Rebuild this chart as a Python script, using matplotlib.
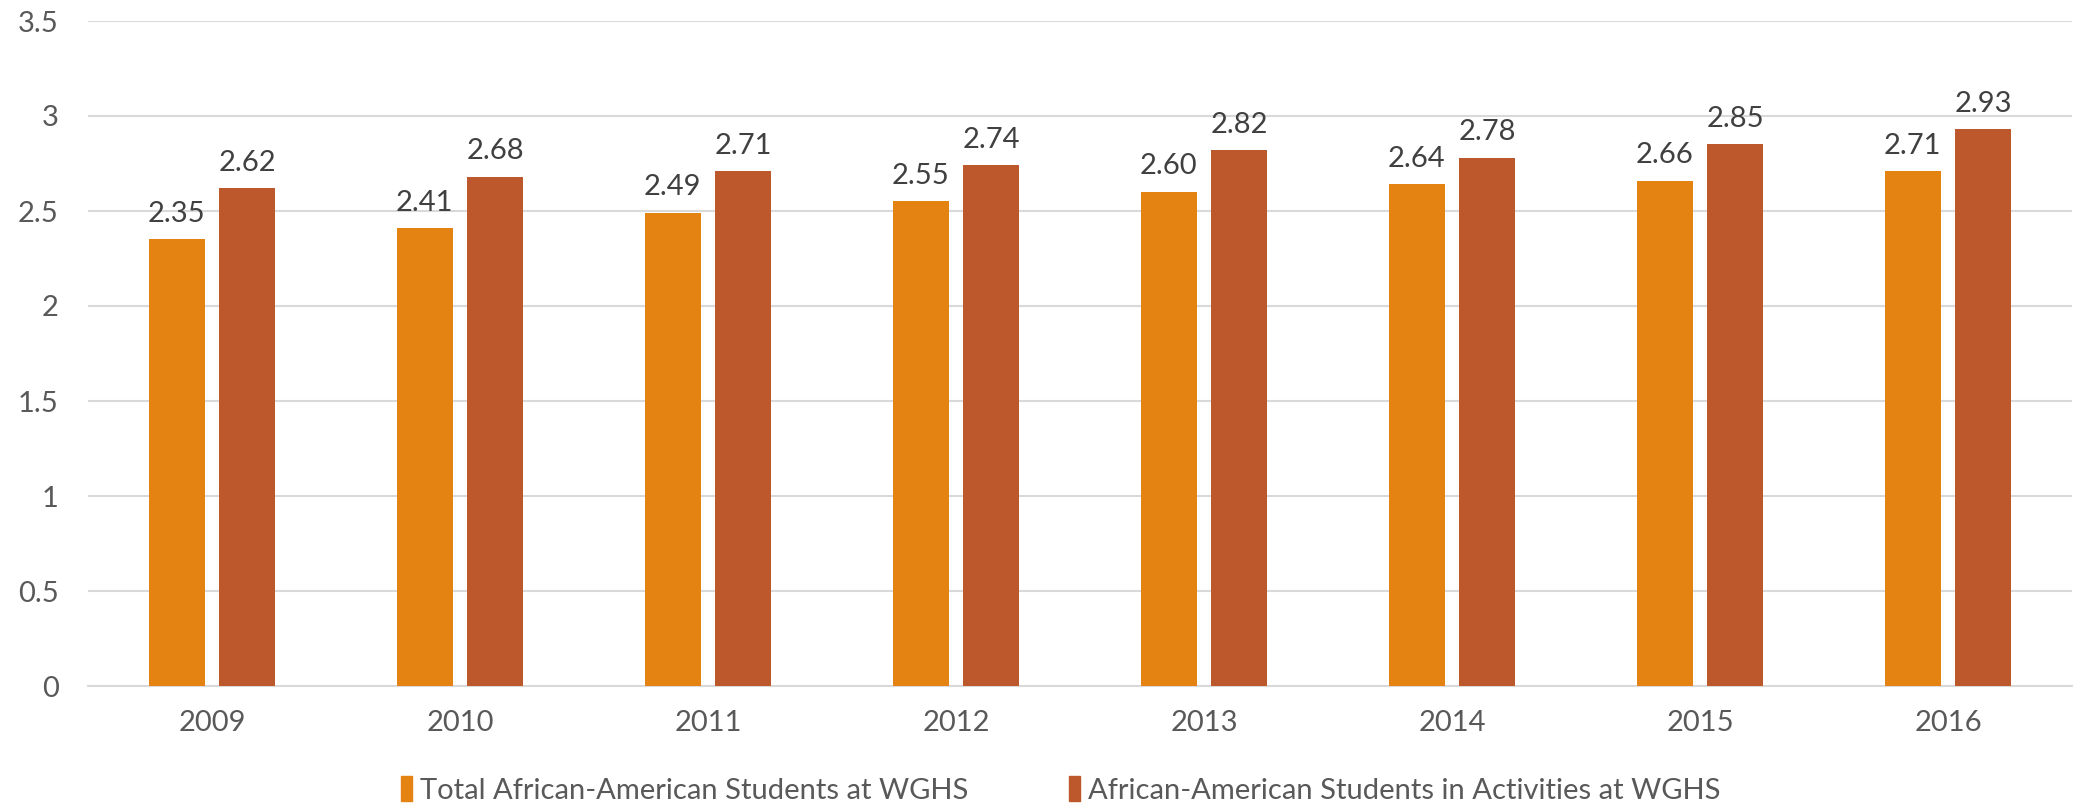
import numpy as np
import matplotlib.pyplot as plt
from matplotlib.patches import Patch

plt.rcParams['font.family'] = ['Lato', 'DejaVu Sans']

years = ['2009', '2010', '2011', '2012', '2013', '2014', '2015', '2016']
total_students = [2.35, 2.41, 2.49, 2.55, 2.60, 2.64, 2.66, 2.71]
activity_students = [2.62, 2.68, 2.71, 2.74, 2.82, 2.78, 2.85, 2.93]
series_names = ['Total African-American Students at WGHS',
                'African-American Students in Activities at WGHS']

c_total = '#E48312'
c_act = '#BD582C'
txt = '#404040'
tick_col = '#595959'

fig = plt.figure(figsize=(20.74, 8.05), dpi=100)
ax = fig.add_axes([88 / 2074, 119 / 805, 1984 / 2074, 665 / 805])

x = np.arange(len(years))
w = 0.226
off = 0.143
b1 = ax.bar(x - off, total_students, w, color=c_total, zorder=3)
b2 = ax.bar(x + off, activity_students, w, color=c_act, zorder=3)

for bars, vals in ((b1, total_students), (b2, activity_students)):
    for r, v in zip(bars, vals):
        ax.annotate(f'{v:.2f}', (r.get_x() + r.get_width() / 2, v),
                    xytext=(0, 9), textcoords='offset points',
                    ha='center', va='bottom', fontsize=21, color=txt)

ax.set_xlim(-0.5, len(years) - 0.5)
ax.set_ylim(0, 3.5)
ax.set_yticks(np.arange(0, 3.51, 0.5))
ax.set_yticklabels(['0', '0.5', '1', '1.5', '2', '2.5', '3', '3.5'])
ax.set_xticks(x)
ax.set_xticklabels(years)
ax.tick_params(axis='both', length=0, labelsize=21, colors=tick_col)
ax.tick_params(axis='y', pad=21)
ax.tick_params(axis='x', pad=17)
ax.yaxis.grid(True, color='#D9D9D9', linewidth=1.5, zorder=0)
ax.set_axisbelow(True)
for s in ['top', 'right', 'left']:
    ax.spines[s].set_visible(False)
ax.spines['bottom'].set_color('#D9D9D9')
ax.spines['bottom'].set_linewidth(1.5)

handles = [Patch(color=c_total), Patch(color=c_act)]
leg = fig.legend(handles, series_names, loc='center', bbox_to_anchor=(0.5116, 15 / 805),
                 ncol=2, frameon=False, fontsize=21, handlelength=0.35,
                 handleheight=0.9, handletextpad=0.3, columnspacing=3.45)
for t in leg.get_texts():
    t.set_color(tick_col)

fig.savefig('out.png', dpi=100)
